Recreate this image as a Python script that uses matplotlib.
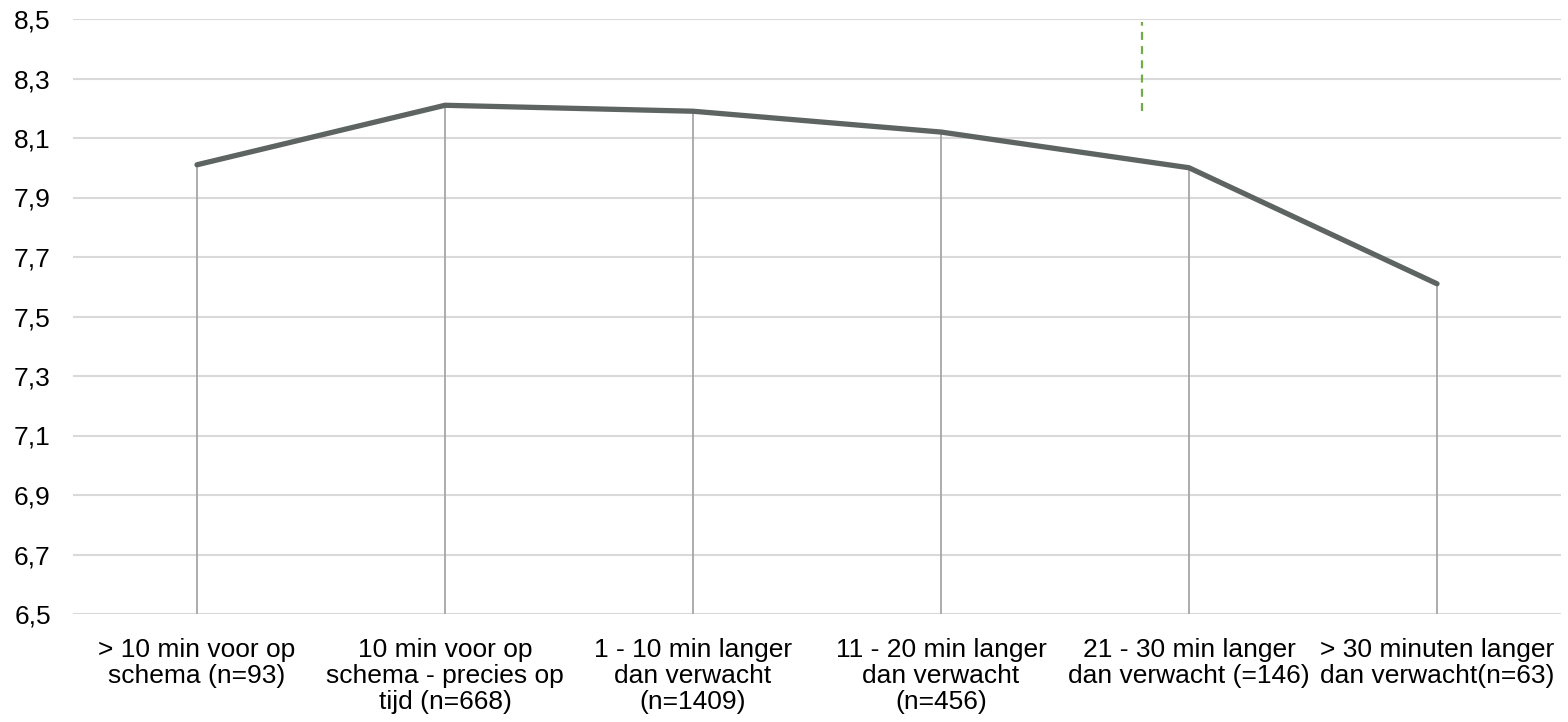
import matplotlib
matplotlib.use("Agg")
from matplotlib import pyplot as plt
from matplotlib.ticker import FuncFormatter
import numpy as np

plt.rcParams['font.family'] = ['Liberation Sans', 'DejaVu Sans']

# categories (waiting time vs. schedule) and the mean scores
categories = [
    "> 10 min voor op\nschema (n=93)",
    "10 min voor op\nschema - precies op\ntijd (n=668)",
    "1 - 10 min langer\ndan verwacht\n(n=1409)",
    "11 - 20 min langer\ndan verwacht\n(n=456)",
    "21 - 30 min langer\ndan verwacht (=146)",
    "> 30 minuten langer\ndan verwacht(n=63)",
]
scores = [8.01, 8.21, 8.19, 8.12, 8.00, 7.61]

y_ticks = [6.5, 6.7, 6.9, 7.1, 7.3, 7.5, 7.7, 7.9, 8.1, 8.3, 8.5]

# small dashed marker line in the upper right
marker_x = 3.81
marker_y = [8.19, 8.49]

fig = plt.figure(figsize=(15.68, 7.22), dpi=100)
ax = fig.add_axes([73 / 1568, 1 - 614 / 722, (1561 - 73) / 1568, (614 - 19) / 722])

x = np.arange(len(categories))
y_min, y_max = y_ticks[0], y_ticks[-1]

# grid
for t in y_ticks:
    ax.axhline(t, color="#d9d9d9", lw=1.5, zorder=0)

# drop lines from each point down to the axis
ax.vlines(x, y_min, scores, color="#a6a6a6", lw=1.3, zorder=1)

ax.plot(x, scores, color="#5d6461", lw=3.8, solid_capstyle="round",
        solid_joinstyle="round", zorder=3)

ax.plot([marker_x, marker_x], marker_y, color="#70ad47", lw=1.6,
        dashes=(3.6, 2.8), zorder=2)

ax.set_xlim(-0.5, len(categories) - 0.5)
ax.set_ylim(y_min, y_max)
ax.set_yticks(y_ticks)
ax.yaxis.set_major_formatter(FuncFormatter(lambda v, p: f"{v:.1f}".replace(".", ",")))
ax.set_xticks(x)
ax.set_xticklabels(categories, linespacing=1.12)

ax.tick_params(axis="both", length=0, labelsize=19, colors="black")
ax.tick_params(axis="x", pad=17)
ax.tick_params(axis="y", pad=16)
for s in ax.spines.values():
    s.set_visible(False)

fig.savefig("out.png", dpi=100)
